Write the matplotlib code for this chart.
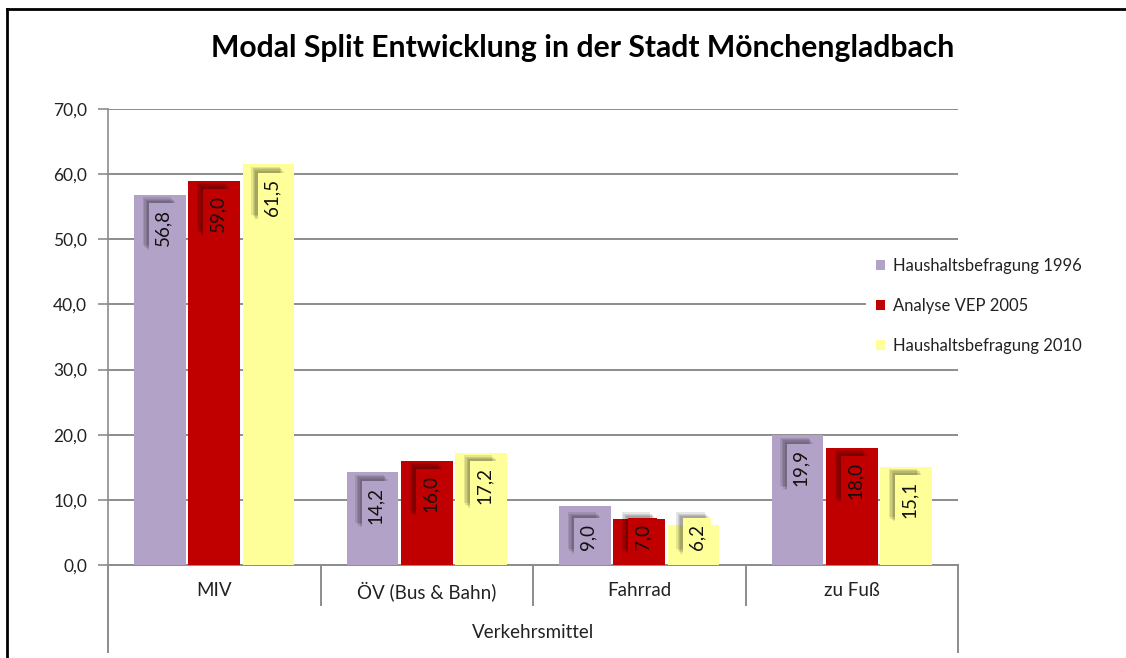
import matplotlib
matplotlib.use("Agg")
import matplotlib.pyplot as plt
import matplotlib.patheffects as pe
from matplotlib.lines import Line2D
from matplotlib.patches import Patch
import numpy as np

categories = ["MIV", "ÖV (Bus & Bahn)", "Fahrrad", "zu Fuß"]
series_names = ["Haushaltsbefragung 1996", "Analyse VEP 2005", "Haushaltsbefragung 2010"]
hb1996 = [56.8, 14.2, 9.0, 19.9]
vep2005 = [59.0, 16.0, 7.0, 18.0]
hb2010 = [61.5, 17.2, 6.2, 15.1]
yticks = [0, 10, 20, 30, 40, 50, 60, 70]
title = "Modal Split Entwicklung in der Stadt Mönchengladbach"
xlabel = "Verkehrsmittel"

colors = ["#B3A2C7", "#C00000", "#FFFF99"]
FONT = ["Lato", "DejaVu Sans"]
plt.rcParams['font.family'] = FONT

W, H = 1126, 658
fig = plt.figure(figsize=(W / 100, H / 100), dpi=100)
ax = fig.add_axes([108 / W, 1 - 565 / H, (958 - 108) / W, (565 - 109) / H])

x = np.arange(len(categories))
bw = 0.243
off = 0.255
series = [hb1996, vep2005, hb2010]
shadow = [pe.SimplePatchShadow(offset=(-k, k), shadow_rgbFace='#000000', alpha=0.10)
          for k in (4.5, 3.5, 2.5, 1.5)] + [pe.Normal()]
for i, (vals, c) in enumerate(zip(series, colors)):
    xs = x + (i - 1) * off
    ax.bar(xs, vals, width=bw, color=c, edgecolor='none', zorder=3)
    for xi, v in zip(xs, vals):
        yc = max(v - 5.0, 4.3)
        t = ax.text(xi + 0.015, yc, f"{v:.1f}".replace(".", ","), rotation=90,
                    ha='center', va='center', fontsize=13.5, color='#111111',
                    zorder=5,
                    bbox=dict(boxstyle='square,pad=0.3', facecolor=c, edgecolor='none'))
        t.get_bbox_patch().set_path_effects(shadow)

ax.set_xlim(-0.5, 3.5)
ax.set_ylim(0, 70)
ax.set_yticks(yticks)
ax.set_yticklabels([f"{v:.1f}".replace(".", ",") for v in yticks], fontsize=12.5, color='#222222')
ax.yaxis.grid(True, color='#8c8c8c', linewidth=1.4, zorder=0)
ax.set_axisbelow(True)
ax.tick_params(axis='y', length=7, width=1.2, color='#8c8c8c', pad=8)
ax.set_xticks([])
for s in ['top', 'right']:
    ax.spines[s].set_visible(False)
ax.spines['left'].set_color('#8c8c8c')
ax.spines['left'].set_linewidth(1.2)
ax.spines['bottom'].set_color('#8c8c8c')
ax.spines['bottom'].set_linewidth(1.4)

# multi-level category axis
trans = ax.get_xaxis_transform()
px = 1.0 / (565 - 109)
for b in [0.5, 1.5, 2.5]:
    ax.add_line(Line2D([b, b], [0, -40 * px], transform=trans, color='#8c8c8c',
                       linewidth=1.4, clip_on=False))
for b in [-0.5, 3.5]:
    ax.add_line(Line2D([b, b], [0, -87 * px], transform=trans, color='#8c8c8c',
                       linewidth=1.4, clip_on=False))
for xi, cat in zip(x, categories):
    ax.text(xi, -26 * px, cat, transform=trans, ha='center', va='center',
            fontsize=13.5, color='#222222')
ax.text(1.5, -68 * px, xlabel, transform=trans, ha='center', va='center',
        fontsize=13.5, color='#222222')

fig.text(583 / W, 1 - 48 / H, title, ha='center', va='center', fontsize=21.7,
         fontweight='bold', color='#000000')

handles = [Patch(facecolor=c, edgecolor='none') for c in colors]
leg = fig.legend(handles, series_names, loc='center left', bbox_to_anchor=(866 / W, 1 - 306 / H),
                 frameon=True, facecolor='white', edgecolor='none', framealpha=1.0,
                 fancybox=False, borderaxespad=0.0, borderpad=0.6,
                 fontsize=12, handlelength=0.55, handleheight=0.55,
                 handletextpad=0.45, labelspacing=1.45, labelcolor='#222222')
leg.set_zorder(10)

# outer frame (left and top)
fig.add_artist(Line2D([7 / W, 7 / W], [0, 1 - 9 / H], transform=fig.transFigure,
                      color='black', linewidth=2))
fig.add_artist(Line2D([7 / W, 1], [1 - 9 / H, 1 - 9 / H], transform=fig.transFigure,
                      color='black', linewidth=2))

fig.savefig("out.png", dpi=100, facecolor='white')
